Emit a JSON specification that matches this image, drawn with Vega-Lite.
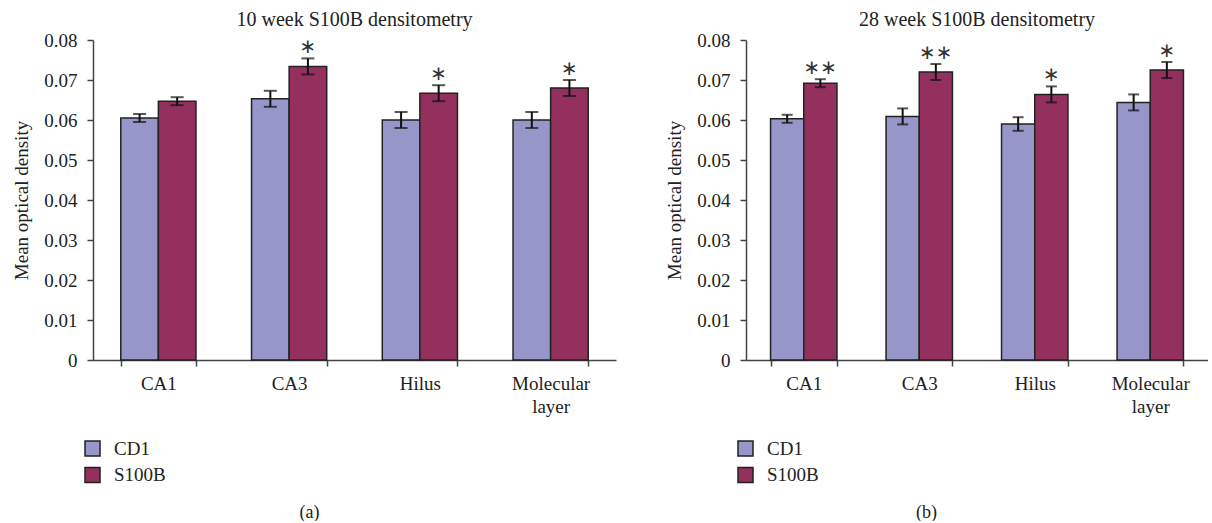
{
  "$schema": "https://vega.github.io/schema/vega-lite/v6.json",
  "background": "white",
  "padding": {"left": 12, "top": 10, "right": 0, "bottom": 0},
  "config": {
    "font": "Liberation Serif",
    "view": {"stroke": null},
    "concat": {"spacing": 49},
    "axis": {"grid": false, "domainColor": "#444", "tickColor": "#444", "domainWidth": 1.5, "tickWidth": 1.5, "labelColor": "#222", "titleColor": "#222", "labelFontSize": 19, "titleFontSize": 19, "titleFontWeight": "normal", "tickSize": 6, "labelFont": "Liberation Serif", "titleFont": "Liberation Serif"},
    "axisY": {"title": "Mean optical density", "values": [0, 0.01, 0.02, 0.03, 0.04, 0.05, 0.06, 0.07, 0.08], "labelOverlap": false, "format": ".2~f", "labelPadding": 10, "titlePadding": 12},
    "title": {"fontSize": 20, "fontWeight": "normal", "color": "#222", "offset": 1, "font": "Liberation Serif"},
    "legend": {"padding": 0}
  },
  "resolve": {"scale": {"color": "independent", "x": "independent", "y": "independent", "xOffset": "independent"}, "legend": {"color": "independent"}},
  "hconcat": [
    {
      "width": 523,
      "height": 320,
      "title": "10 week S100B densitometry",
      "data": {"values": [
        {"region": "CA1", "group": "CD1", "value": 0.0605, "lo": 0.0595, "hi": 0.0615, "sig": ""},
        {"region": "CA1", "group": "S100B", "value": 0.0647, "lo": 0.0637, "hi": 0.0657, "sig": ""},
        {"region": "CA3", "group": "CD1", "value": 0.0653, "lo": 0.0633, "hi": 0.0673, "sig": ""},
        {"region": "CA3", "group": "S100B", "value": 0.0734, "lo": 0.0714, "hi": 0.0754, "sig": "∗"},
        {"region": "Hilus", "group": "CD1", "value": 0.0600, "lo": 0.0580, "hi": 0.0620, "sig": ""},
        {"region": "Hilus", "group": "S100B", "value": 0.0667, "lo": 0.0647, "hi": 0.0687, "sig": "∗"},
        {"region": "Molecular layer", "group": "CD1", "value": 0.0600, "lo": 0.0580, "hi": 0.0620, "sig": ""},
        {"region": "Molecular layer", "group": "S100B", "value": 0.0680, "lo": 0.0660, "hi": 0.0700, "sig": "∗"}
      ]},
      "encoding": {
        "x": {"field": "region", "type": "nominal", "sort": ["CA1", "CA3", "Hilus", "Molecular layer"],
          "scale": {"paddingInner": 0.425, "paddingOuter": 0.2125},
          "axis": {"title": "(a)", "titleX": 216, "titleY": 152, "titleBaseline": "middle", "titleAlign": "center", "titleFontSize": 18, "labelAngle": 0, "tickBand": "extent", "labelPadding": 8, "labelLineHeight": 23, "labelExpr": "datum.value == 'Molecular layer' ? ['Molecular', 'layer'] : datum.value"}},
        "xOffset": {"field": "group", "type": "nominal", "sort": ["CD1", "S100B"]}
      },
      "layer": [
        {"mark": {"type": "bar", "stroke": "#222", "strokeWidth": 1.5},
          "encoding": {
            "y": {"field": "value", "type": "quantitative", "scale": {"domain": [0, 0.08]}, "title": "Mean optical density"},
            "color": {"field": "group", "type": "nominal", "scale": {"domain": ["CD1", "S100B"], "range": ["#9696C8", "#93305E"]},
              "legend": {"orient": "none", "legendX": -10, "legendY": 399, "direction": "vertical", "title": null, "symbolType": "square", "symbolSize": 225, "symbolStrokeColor": "#222", "symbolStrokeWidth": 1.5, "symbolOpacity": 1, "labelFontSize": 19, "labelFont": "Liberation Serif", "labelColor": "#222", "labelOffset": 12, "rowPadding": 5.5}}
          }},
        {"mark": {"type": "rule", "strokeWidth": 2, "color": "#111"},
          "encoding": {"y": {"field": "lo", "type": "quantitative", "title": "Mean optical density"}, "y2": {"field": "hi"}}},
        {"mark": {"type": "tick", "thickness": 2, "size": 13, "color": "#111"},
          "encoding": {"y": {"field": "lo", "type": "quantitative", "title": "Mean optical density"}}},
        {"mark": {"type": "tick", "thickness": 2, "size": 13, "color": "#111"},
          "encoding": {"y": {"field": "hi", "type": "quantitative", "title": "Mean optical density"}}},
        {"mark": {"type": "text", "font": "DejaVu Sans", "fontSize": 20, "baseline": "middle", "dy": -11, "color": "#333"},
          "encoding": {"y": {"field": "hi", "type": "quantitative", "title": "Mean optical density"}, "text": {"field": "sig"}}}
      ]
    },
    {
      "width": 462,
      "height": 320,
      "title": "28 week S100B densitometry",
      "data": {"values": [
        {"region": "CA1", "group": "CD1", "value": 0.0603, "lo": 0.0593, "hi": 0.0613, "sig": ""},
        {"region": "CA1", "group": "S100B", "value": 0.0692, "lo": 0.0682, "hi": 0.0702, "sig": "∗∗"},
        {"region": "CA3", "group": "CD1", "value": 0.0609, "lo": 0.0589, "hi": 0.0629, "sig": ""},
        {"region": "CA3", "group": "S100B", "value": 0.0720, "lo": 0.0700, "hi": 0.0740, "sig": "∗∗"},
        {"region": "Hilus", "group": "CD1", "value": 0.0590, "lo": 0.0573, "hi": 0.0607, "sig": ""},
        {"region": "Hilus", "group": "S100B", "value": 0.0664, "lo": 0.0644, "hi": 0.0684, "sig": "∗"},
        {"region": "Molecular layer", "group": "CD1", "value": 0.0644, "lo": 0.0624, "hi": 0.0664, "sig": ""},
        {"region": "Molecular layer", "group": "S100B", "value": 0.0725, "lo": 0.0705, "hi": 0.0745, "sig": "∗"}
      ]},
      "encoding": {
        "x": {"field": "region", "type": "nominal", "sort": ["CA1", "CA3", "Hilus", "Molecular layer"],
          "scale": {"paddingInner": 0.425, "paddingOuter": 0.2125},
          "axis": {"title": "(b)", "titleX": 180, "titleY": 152, "titleBaseline": "middle", "titleAlign": "center", "titleFontSize": 18, "labelAngle": 0, "tickBand": "extent", "labelPadding": 8, "labelLineHeight": 23, "labelExpr": "datum.value == 'Molecular layer' ? ['Molecular', 'layer'] : datum.value"}},
        "xOffset": {"field": "group", "type": "nominal", "sort": ["CD1", "S100B"]}
      },
      "layer": [
        {"mark": {"type": "bar", "stroke": "#222", "strokeWidth": 1.5},
          "encoding": {
            "y": {"field": "value", "type": "quantitative", "scale": {"domain": [0, 0.08]}, "title": "Mean optical density"},
            "color": {"field": "group", "type": "nominal", "scale": {"domain": ["CD1", "S100B"], "range": ["#9696C8", "#93305E"]},
              "legend": {"orient": "none", "legendX": -10, "legendY": 399, "direction": "vertical", "title": null, "symbolType": "square", "symbolSize": 225, "symbolStrokeColor": "#222", "symbolStrokeWidth": 1.5, "symbolOpacity": 1, "labelFontSize": 19, "labelFont": "Liberation Serif", "labelColor": "#222", "labelOffset": 12, "rowPadding": 5.5}}
          }},
        {"mark": {"type": "rule", "strokeWidth": 2, "color": "#111"},
          "encoding": {"y": {"field": "lo", "type": "quantitative", "title": "Mean optical density"}, "y2": {"field": "hi"}}},
        {"mark": {"type": "tick", "thickness": 2, "size": 11, "color": "#111"},
          "encoding": {"y": {"field": "lo", "type": "quantitative", "title": "Mean optical density"}}},
        {"mark": {"type": "tick", "thickness": 2, "size": 11, "color": "#111"},
          "encoding": {"y": {"field": "hi", "type": "quantitative", "title": "Mean optical density"}}},
        {"mark": {"type": "text", "font": "DejaVu Sans", "fontSize": 20, "baseline": "middle", "dy": -11, "color": "#333"},
          "encoding": {"y": {"field": "hi", "type": "quantitative", "title": "Mean optical density"}, "text": {"field": "sig"}}}
      ]
    }
  ]
}
